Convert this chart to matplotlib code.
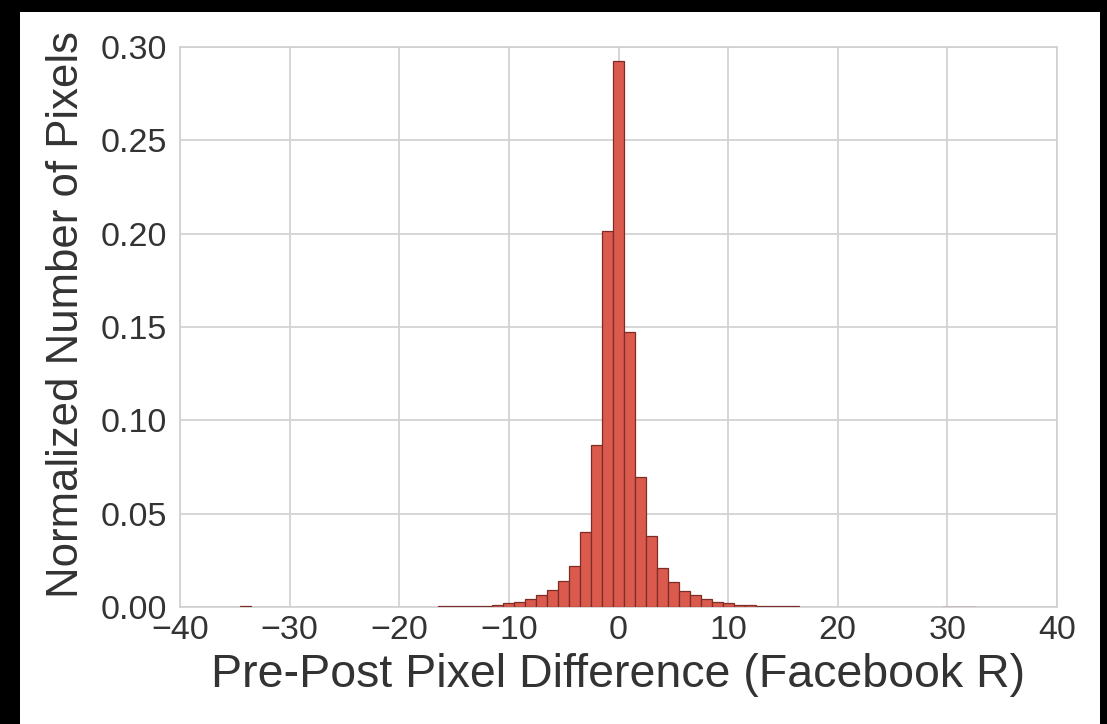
import matplotlib
matplotlib.use('Agg')
import matplotlib.pyplot as plt
from matplotlib.patches import Rectangle

# histogram bins (unit width, centred on integers)
centers = [-34, -16, -15, -14, -13, -12, -11, -10, -9, -8, -7, -6, -5, -4, -3, -2, -1,
           0, 1, 2, 3, 4, 5, 6, 7, 8, 9, 10, 11, 12, 13, 14, 15, 16, 30, 31, 32]
heights = [0.0004, 0.0004, 0.0005, 0.0005, 0.0006, 0.0008, 0.0012, 0.0021, 0.0027, 0.0041,
           0.0063, 0.0089, 0.0137, 0.0222, 0.0403, 0.0867, 0.2014,
           0.2923, 0.1472, 0.0698, 0.0383, 0.0210, 0.0132, 0.0088, 0.0062, 0.0041, 0.0027,
           0.0020, 0.0013, 0.0012, 0.0007, 0.0007, 0.0007, 0.0007, 0.0002, 0.0002, 0.0002]

xticks = [-40, -30, -20, -10, 0, 10, 20, 30, 40]
yticks = [0.00, 0.05, 0.10, 0.15, 0.20, 0.25, 0.30]

plt.rcParams['font.family'] = ['Liberation Sans', 'DejaVu Sans']

fig = plt.figure(figsize=(11.07, 7.24), dpi=100, facecolor='black')
# white panel inside the black frame
fig.patches.append(Rectangle((20 / 1107, 0), 1080 / 1107, 712 / 724,
                             transform=fig.transFigure, facecolor='white',
                             edgecolor='none', zorder=-10))

ax = fig.add_axes([180 / 1107, 1 - 607 / 724, 877 / 1107, 560 / 724])
ax.set_facecolor('white')
ax.bar(centers, heights, width=1.0, color='#db5a4e', edgecolor='#7d2c26',
       linewidth=0.9, zorder=3)

ax.set_xlim(-40, 40)
ax.set_ylim(0, 0.30)
ax.set_xticks(xticks)
ax.set_yticks(yticks)
ax.set_xticklabels(['\u2212%d' % -t if t < 0 else '%d' % t for t in xticks])
ax.set_yticklabels(['%.2f' % t for t in yticks])
ax.tick_params(length=0, labelsize=24.5, colors='#333333')
ax.tick_params(axis='x', pad=6)
ax.tick_params(axis='y', pad=9)
ax.grid(True, color='#d0d0d0', linewidth=1.2, zorder=0)
for s in ax.spines.values():
    s.set_color('#d0d0d0')
    s.set_linewidth(1.2)

ax.set_xlabel('Pre-Post Pixel Difference (Facebook R)', fontsize=33.5,
              color='#333333')
ax.set_ylabel('Normalized Number of Pixels', fontsize=31.5,
              color='#333333')
ax.xaxis.set_label_coords(0.5, -0.083)
ax.yaxis.set_label_coords(-0.106, 0.523)

fig.savefig('out.png', dpi=100, facecolor=fig.get_facecolor())
